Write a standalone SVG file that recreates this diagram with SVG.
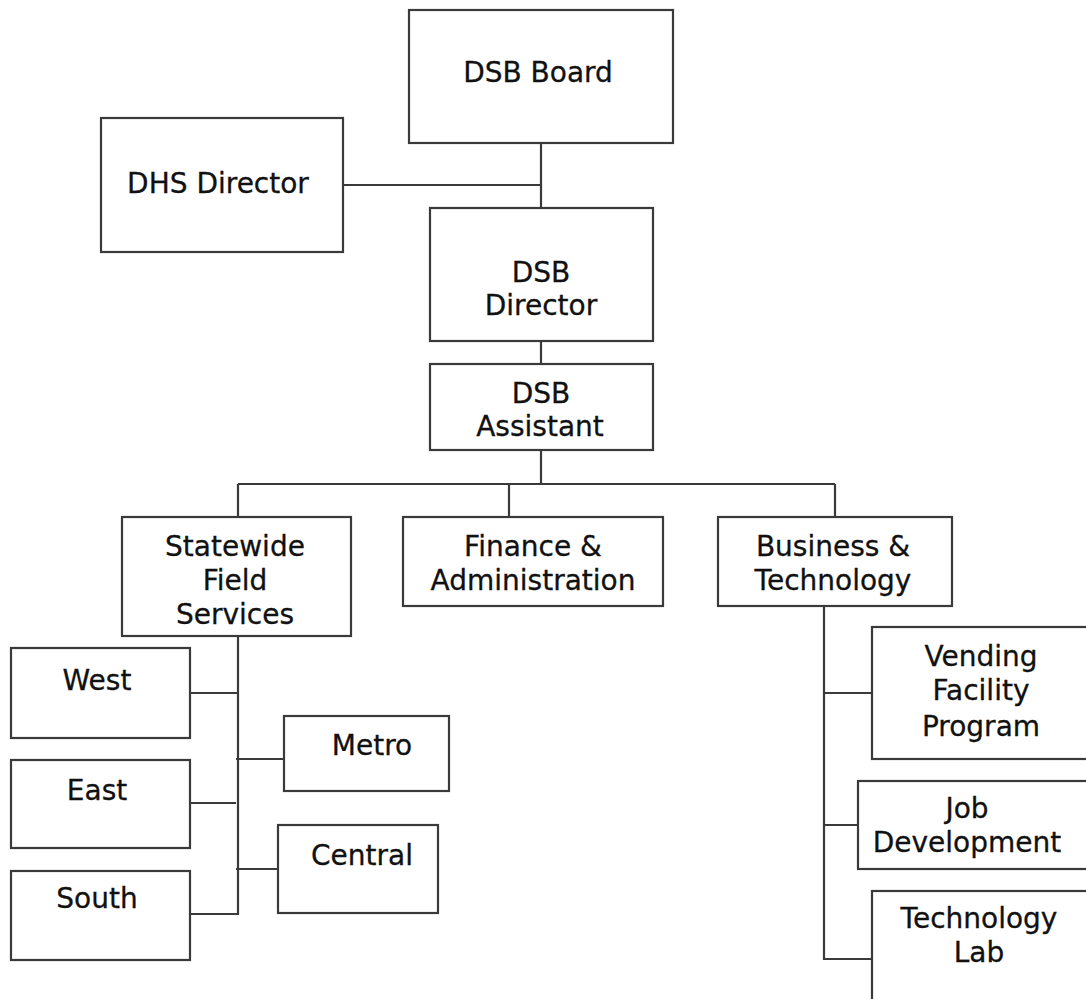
<svg xmlns="http://www.w3.org/2000/svg" width="1086" height="999" viewBox="0 0 1086 999">
<style>
rect{fill:#fff;stroke:#3a3a3a;stroke-width:2.2}
.c path{fill:none;stroke:#3a3a3a;stroke-width:2.2}
text{font-family:"DejaVu Sans",Verdana,sans-serif;font-size:28px;fill:#111;text-anchor:middle;stroke:#111;stroke-width:0.3}
</style>
<rect x="0" y="0" width="1086" height="999" style="fill:#fff;stroke:none"/>
<g class="c">
<path d="M541 143V208M343 185H541"/>
<path d="M541 341V364"/>
<path d="M541 450V484M238 484H835M238 484V517M509 484V517M835 484V517"/>
<path d="M238 636V914H190M190 693H238M236 759H284M190 803H236M236 869H278"/>
<path d="M824 606V959H872M824 693H872M824 825H858"/>
</g>
<g id="dsb-board"><rect x="409" y="10" width="264" height="133"/><text x="538" y="82">DSB Board</text></g>
<g id="dhs-director"><rect x="101" y="118" width="242" height="134"/><text x="218" y="193">DHS Director</text></g>
<g id="dsb-director"><rect x="430" y="208" width="223" height="133"/><text x="541" y="282">DSB</text><text x="541" y="315">Director</text></g>
<g id="dsb-assistant"><rect x="430" y="364" width="223" height="86"/><text x="541" y="403">DSB</text><text x="540" y="436">Assistant</text></g>
<g id="statewide"><rect x="122" y="517" width="229" height="119"/><text x="235" y="556">Statewide</text><text x="235" y="590">Field</text><text x="235" y="624">Services</text></g>
<g id="finance"><rect x="403" y="517" width="260" height="89"/><text x="533" y="556">Finance &amp;</text><text x="533" y="590">Administration</text></g>
<g id="business"><rect x="718" y="517" width="234" height="89"/><text x="833" y="556">Business &amp;</text><text x="833" y="590">Technology</text></g>
<g id="west"><rect x="11" y="648" width="179" height="90"/><text x="97" y="690">West</text></g>
<g id="east"><rect x="11" y="760" width="179" height="88"/><text x="97" y="800">East</text></g>
<g id="south"><rect x="11" y="871" width="179" height="89"/><text x="97" y="908">South</text></g>
<g id="metro"><rect x="284" y="716" width="165" height="75"/><text x="372" y="755">Metro</text></g>
<g id="central"><rect x="278" y="825" width="160" height="88"/><text x="362" y="865">Central</text></g>
<g id="vending"><rect x="872" y="627" width="220" height="132"/><text x="981" y="666">Vending</text><text x="981" y="700">Facility</text><text x="981" y="736">Program</text></g>
<g id="job"><rect x="858" y="781" width="234" height="88"/><text x="967" y="818">Job</text><text x="967" y="852">Development</text></g>
<g id="techlab"><rect x="872" y="891" width="220" height="120"/><text x="979" y="928">Technology</text><text x="979" y="962">Lab</text></g>
</svg>
